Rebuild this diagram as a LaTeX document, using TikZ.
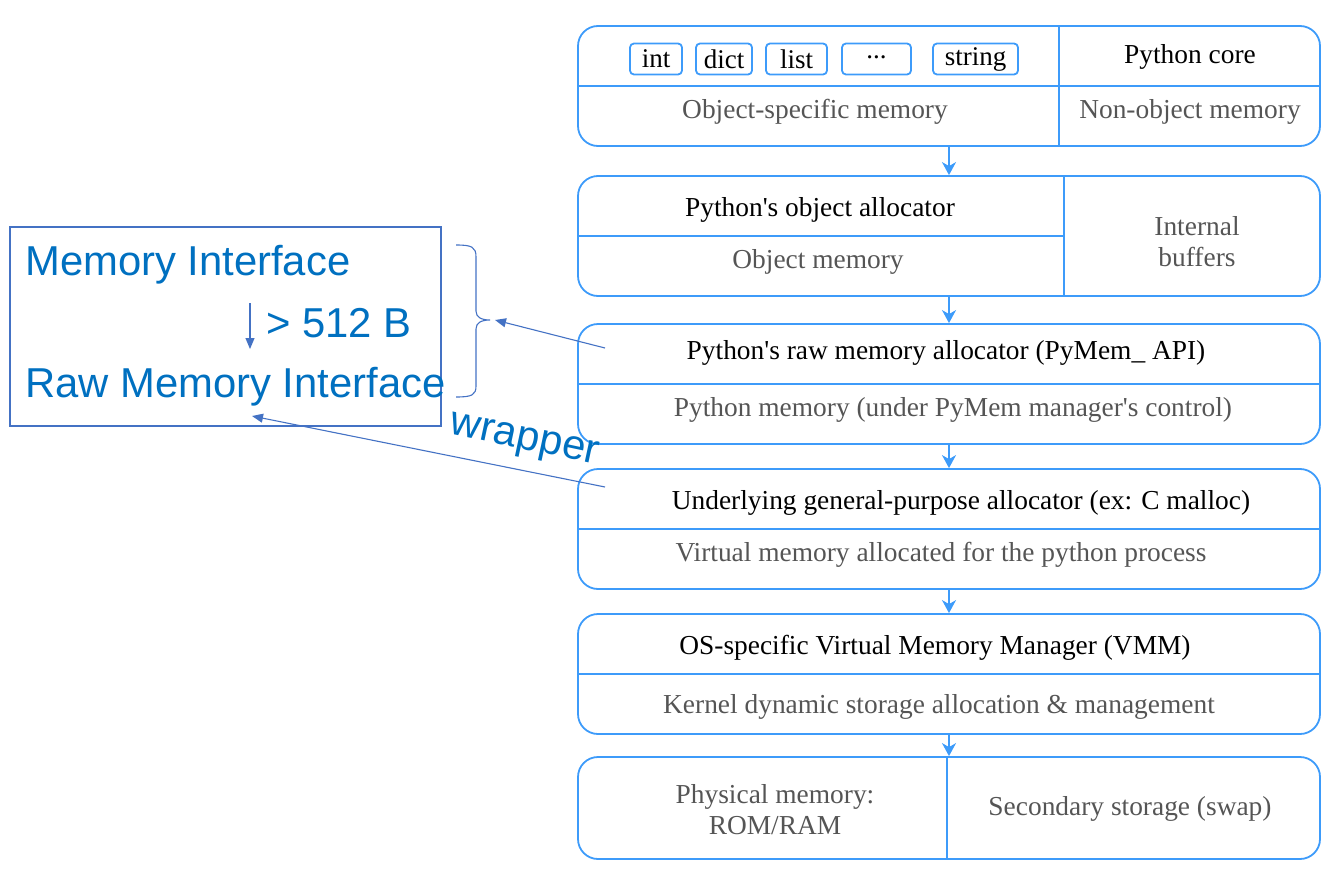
\documentclass[tikz,border=0pt]{standalone}
\usepackage{fontspec}
\setmainfont{Liberation Serif}
\newfontfamily\arialf{Liberation Sans}
\usetikzlibrary{arrows.meta}
\definecolor{stackblue}{RGB}{61,155,250}
\definecolor{leftline}{RGB}{68,114,196}
\definecolor{lefttext}{RGB}{0,112,192}
\definecolor{graytext}{RGB}{85,85,85}
\newcommand{\apos}{\textquotesingle}
\begin{document}
\begin{tikzpicture}[x=1pt,y=-1pt,
  layer/.style={draw=stackblue, line width=1.8pt, rounded corners=20pt, minimum width=742pt, inner sep=0pt},
  divider/.style={draw=stackblue, line width=1.8pt},
  tag/.style={draw=stackblue, line width=1.8pt, rounded corners=4pt, minimum height=31pt, inner sep=0pt, font=\fontsize{27}{30}\selectfont},
  head/.style={font=\fontsize{27.4}{30}\selectfont, text=black, inner sep=0pt},
  sub/.style={font=\fontsize{27.4}{30}\selectfont, text=graytext, inner sep=0pt},
  flow/.style={draw=stackblue, line width=1.8pt, -{Stealth[length=13pt,width=14pt,inset=4pt]}},
  lefttxt/.style={font=\arialf\fontsize{41.8}{48}\selectfont, text=lefttext, inner sep=0pt},
  leftarrow/.style={draw=leftline, line width=1.1pt, -{Triangle[length=11pt,width=9pt]}}
]
\useasboundingbox (0,0) rectangle (1336,883);

% ---- stack of layers ----
\node[layer, minimum height=120pt] (b1) at (949,86) {};
\node[layer, minimum height=120pt] (b2) at (949,236) {};
\node[layer, minimum height=120pt] (b3) at (949,384) {};
\node[layer, minimum height=120pt] (b4) at (949,529) {};
\node[layer, minimum height=120pt] (b5) at (949,674) {};
\node[layer, minimum height=102pt] (b6) at (949,808) {};

% dividers
\draw[divider] (b1.west) -- (b1.east);
\draw[divider] (1059,26) -- (1059,146);
\draw[divider] (b2.west) -- (1064,236);
\draw[divider] (1064,176) -- (1064,296);
\draw[divider] (b3.west) -- (b3.east);
\draw[divider] (b4.west) -- (b4.east);
\draw[divider] (b5.west) -- (b5.east);
\draw[divider] (947,757) -- (947,859);

% layer 1
\node[tag, minimum width=52pt] (tint) at (656,59) {int};
\node[tag, minimum width=56pt] (tdict) at (724,59) {dict};
\node[tag, minimum width=61pt] (tlist) at (796.5,59) {list};
\node[tag, minimum width=69pt] (tdots) at (876.5,59) {\raisebox{3pt}{...}};
\node[tag, minimum width=85pt] (tstring) at (975.5,59) {string};
\node[head] (pycore) at (1190,57) {Python core};
\node[sub] (objspec) at (815,112) {Object-specific memory};
\node[sub] (nonobj) at (1190,112) {Non-object memory};

% layer 2
\node[head] (objalloc) at (820,210) {Python\apos s object allocator};
\node[sub] (objmem) at (818,262) {Object memory};
\node[sub, align=center] (intbuf) at (1197,242) {Internal\\[1pt]buffers};

% layer 3
\node[head] (rawalloc) at (946,353) {Python\apos s raw memory allocator (PyMem\_ API)};
\node[sub] (pymem) at (953,410) {Python memory (under PyMem manager\apos s control)};

% layer 4
\node[head] (gpalloc) at (961,503) {Underlying general-purpose allocator (ex: C malloc)};
\node[sub] (virtmem) at (941,555) {Virtual memory allocated for the python process};

% layer 5
\node[head] (vmm) at (935,648) {OS-specific Virtual Memory Manager (VMM)};
\node[sub] (kernel) at (939,707) {Kernel dynamic storage allocation \& management};

% layer 6
\node[sub, align=center] (phys) at (775,810) {Physical memory:\\[1pt]ROM/RAM};
\node[sub] (swap) at (1130,809) {Secondary storage (swap)};

% flow arrows
\draw[flow] (b1.south) -- (b2.north);
\draw[flow] (b2.south) -- (b3.north);
\draw[flow] (b3.south) -- (b4.north);
\draw[flow] (b4.south) -- (b5.north);
\draw[flow] (b5.south) -- (b6.north);

% ---- left annotation ----
\node[draw=leftline, line width=1.8pt, minimum width=431pt, minimum height=199pt, inner sep=0pt] (lbox) at (225.5,326.5) {};
\node[lefttxt, anchor=west] (memif) at (25,265) {Memory Interface};
\node[lefttxt, anchor=west] (thresh) at (266,323) {> 512 B};
\node[lefttxt, anchor=west] (rawif) at (25,387) {Raw Memory Interface};
\coordinate (dtop) at (250,303);
\coordinate (dbot) at (250,349);
\draw[leftarrow] (dtop) -- (dbot);

% brace
\draw[leftline, line width=1.1pt] (456,245) .. controls (472,245) and (476,247) .. (476,257)
  -- (476,311) .. controls (476,317) and (481,320) .. (490,320)
  .. controls (481,320) and (476,323) .. (476,329)
  -- (476,386) .. controls (476,395) and (472,397) .. (456,397);
\coordinate (bracetip) at (495,320);
\coordinate (fromraw) at (605,348);
\draw[leftarrow] (fromraw) -- (bracetip);

\coordinate (fromgp) at (605,487);
\coordinate (rawtarget) at (252,416);
\draw[leftarrow] (fromgp) -- (rawtarget);
\node[lefttxt, rotate=-12] (wrap) at (524,442) {wrapper};
\end{tikzpicture}
\end{document}
